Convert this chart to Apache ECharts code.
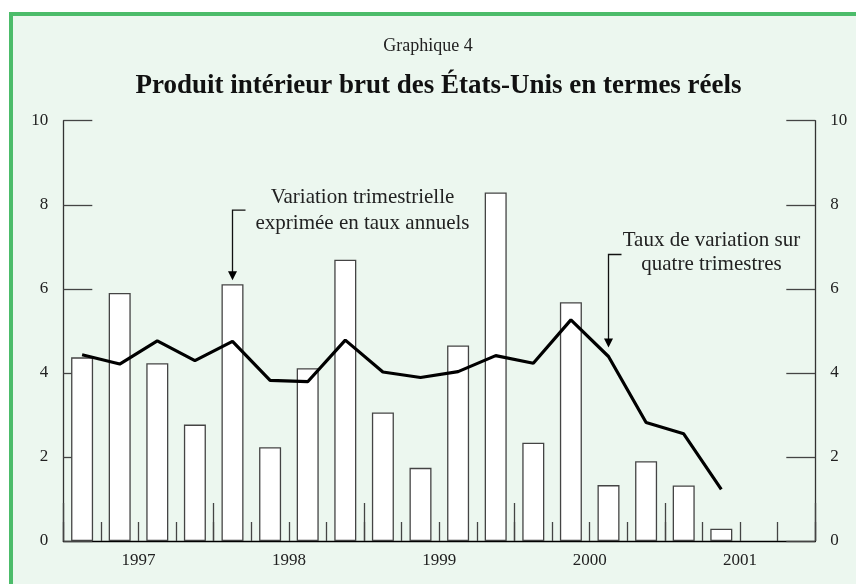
<!DOCTYPE html>
<html>
<head>
<meta charset="utf-8">
<script src="https://cdn.jsdelivr.net/npm/echarts@6/dist/echarts.min.js"></script>
<style>
  html, body { margin: 0; padding: 0; background: #ffffff; }
  #box { position: absolute; left: 9px; top: 12px; width: 900px; height: 700px;
         border-left: 4.5px solid #4cbc6a; border-top: 4.5px solid #4cbc6a; background: #ecf7ef; }
  #chart { position: absolute; left: 0; top: 0; width: 856px; height: 584px; }
</style>
</head>
<body>
<div id="box"></div>
<div id="chart"></div>
<script>
const quarters = ['1997 T1','1997 T2','1997 T3','1997 T4','1998 T1','1998 T2','1998 T3','1998 T4',
                  '1999 T1','1999 T2','1999 T3','1999 T4','2000 T1','2000 T2','2000 T3','2000 T4',
                  '2001 T1','2001 T2','2001 T3','2001 T4'];
const years = ['1997','1998','1999','2000','2001'];
const quarterlyRate = [4.37, 5.90, 4.23, 2.77, 6.11, 2.23, 4.11, 6.69, 3.06, 1.74, 4.65, 8.29, 2.34, 5.68, 1.33, 1.90, 1.32, 0.29];
const fourQuarterRate = [4.43, 4.21, 4.76, 4.29, 4.75, 3.82, 3.79, 4.78, 4.02, 3.89, 4.03, 4.41, 4.23, 5.26, 4.39, 2.82, 2.55, 1.23];
const yMin = 0, yMax = 10, yStep = 2;
const titleSmall = 'Graphique 4';
const titleMain = 'Produit intérieur brut des États-Unis en termes réels';
const noteBars = 'Variation trimestrielle\nexprimée en taux annuels';
const noteLine = 'Taux de variation sur\nquatre trimestres';

const FONT = '"Liberation Serif", "DejaVu Serif", serif';
const chart = echarts.init(document.getElementById('chart'), null, { renderer: 'canvas' });

const yAxisCommon = {
  type: 'value', min: yMin, max: yMax, interval: yStep,
  axisLine: { show: true, lineStyle: { color: '#333', width: 1.3 } },
  axisTick: { show: true, inside: true, length: 29, lineStyle: { color: '#444', width: 1.3 } },
  splitLine: { show: false },
  axisLabel: { fontFamily: FONT, fontSize: 17, color: '#222', margin: 15 }
};

chart.setOption({
  animation: false,
  backgroundColor: 'transparent',
  title: [
    { text: titleSmall, left: 'center', top: 37, padding: 0,
      textStyle: { fontFamily: FONT, fontSize: 18, fontWeight: 'normal', color: '#222' } },
    { text: titleMain, left: 438.5, textAlign: 'center', top: 73, padding: 0,
      textStyle: { fontFamily: FONT, fontSize: 27, fontWeight: 'bold', color: '#111' } }
  ],
  grid: { left: 63.3, right: 40.7, top: 120.7, bottom: 43, containLabel: false },
  xAxis: [
    { type: 'category', data: quarters, boundaryGap: true, position: 'bottom',
      axisLine: { show: true, lineStyle: { color: '#000', width: 1.3 } },
      axisTick: { show: true, inside: true, length: 19, interval: 0, lineStyle: { color: '#444', width: 1.3 } },
      axisLabel: { show: false } },
    { type: 'category', data: years, boundaryGap: true, position: 'bottom',
      axisLine: { show: false },
      axisTick: { show: true, inside: true, length: 38, interval: 0, lineStyle: { color: '#444', width: 1.3 } },
      axisLabel: { show: true, interval: 0, fontFamily: FONT, fontSize: 17, color: '#222', margin: 11 } }
  ],
  yAxis: [
    Object.assign({}, yAxisCommon, { position: 'left' }),
    Object.assign({}, yAxisCommon, { position: 'right' })
  ],
  series: [
    { type: 'bar', name: noteBars, xAxisIndex: 0, yAxisIndex: 0, data: quarterlyRate,
      barWidth: 22, itemStyle: { color: '#ffffff', borderColor: '#444', borderWidth: 1.3 } },
    { type: 'line', name: noteLine, xAxisIndex: 0, yAxisIndex: 0, data: fourQuarterRate,
      showSymbol: false, symbol: 'none', lineStyle: { color: '#000', width: 3.2 } }
  ]
});

// Annotations anchored to the data through the axes
const pBar = chart.convertToPixel({ xAxisIndex: 0, yAxisIndex: 0 }, [4, quarterlyRate[4]]);
const pLine = chart.convertToPixel({ xAxisIndex: 0, yAxisIndex: 0 }, [14, fourQuarterRate[14]]);

function arrow(x, tipY, topY, armLen) {
  return [
    { type: 'polyline', shape: { points: [[x + armLen, topY], [x, topY], [x, tipY - 8]] },
      style: { stroke: '#111', lineWidth: 1.3, fill: null }, z: 10 },
    { type: 'polygon', shape: { points: [[x - 4.5, tipY - 9], [x + 4.5, tipY - 9], [x, tipY]] },
      style: { fill: '#000' }, z: 10 }
  ];
}
const tip1 = pBar[1] - 4, top1 = tip1 - 70;
const tip2 = pLine[1] - 9, top2 = tip2 - 93;

chart.setOption({
  graphic: [].concat(
    arrow(pBar[0], tip1, top1, 13),
    arrow(pLine[0], tip2, top2, 13),
    [
      { type: 'text', x: pBar[0] + 130, y: top1 - 26, z: 10,
        style: { text: noteBars, font: '21px ' + FONT, fill: '#222', align: 'center', verticalAlign: 'top', lineHeight: 26 } },
      { type: 'text', x: pLine[0] + 103, y: top2 - 26.5, z: 10,
        style: { text: noteLine, font: '21px ' + FONT, fill: '#222', align: 'center', verticalAlign: 'top', lineHeight: 24.5 } }
    ]
  )
});
</script>
</body>
</html>
